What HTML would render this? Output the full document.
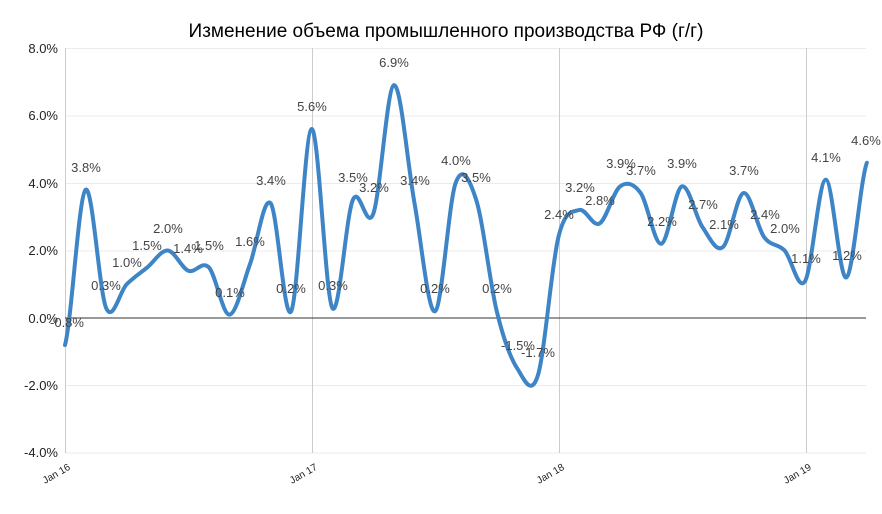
<!DOCTYPE html>
<html><head><meta charset="utf-8"><style>
body{margin:0;background:#fff;}
svg{display:block;font-family:"Liberation Sans","Noto Sans CJK SC",sans-serif;}
</style></head><body>
<svg width="882" height="514" xmlns="http://www.w3.org/2000/svg">
<text x="446" y="37" text-anchor="middle" font-size="19" fill="#000">Изменение объема промышленного производства РФ (г/г)</text>
<g stroke="#ebebeb" stroke-width="1">
<line x1="65" x2="866" y1="48.5" y2="48.5"/>
<line x1="65" x2="866" y1="116" y2="116"/>
<line x1="65" x2="866" y1="183.5" y2="183.5"/>
<line x1="65" x2="866" y1="251" y2="251"/>
<line x1="65" x2="866" y1="385.5" y2="385.5"/>
<line x1="65" x2="866" y1="453" y2="453"/>
</g>
<g stroke="#cccccc" stroke-width="1">
<line x1="65.5" x2="65.5" y1="48" y2="453"/>
<line x1="312.5" x2="312.5" y1="48" y2="453"/>
<line x1="559.5" x2="559.5" y1="48" y2="453"/>
<line x1="806.5" x2="806.5" y1="48" y2="453"/>
</g>
<line x1="65" x2="866" y1="318" y2="318" stroke="#333" stroke-width="1"/>
<g font-size="13" fill="#222" text-anchor="end">
<text x="58" y="53">8.0%</text>
<text x="58" y="120">6.0%</text>
<text x="58" y="188">4.0%</text>
<text x="58" y="255">2.0%</text>
<text x="58" y="323">0.0%</text>
<text x="58" y="390">-2.0%</text>
<text x="58" y="457">-4.0%</text>
</g>
<g font-size="10" fill="#222" text-anchor="end">
<text transform="translate(71,469) rotate(-30)">Jan 16</text>
<text transform="translate(318,469) rotate(-30)">Jan 17</text>
<text transform="translate(565,469) rotate(-30)">Jan 18</text>
<text transform="translate(812,469) rotate(-30)">Jan 19</text>
</g>
<path d="M65,345 C71.85,319.1 78.71,195.9 85.56,189.75 C92.41,183.6 99.27,292.1 106.12,307.9 C112.97,323.6 119.83,291 126.68,284.25 C133.53,277.5 140.39,273 147.24,267.4 C154.09,261.75 160.95,249.9 167.8,250.5 C174.65,251.1 181.51,267.9 188.36,270.75 C195.21,273.6 202.07,260.1 208.92,267.4 C215.77,274.7 222.63,315.2 229.48,314.6 C236.33,314.1 243.19,282.6 250.04,264 C256.89,245.4 263.75,195.4 270.6,203.25 C277.45,211.1 284.31,323.6 291.16,311.25 C298.01,298.9 304.87,129.6 311.72,129 C318.57,128.4 325.43,296.1 332.28,307.9 C339.13,319.7 345.99,215.6 352.84,199.9 C359.69,184.1 366.55,232.5 373.4,213.4 C380.25,194.25 387.11,86.8 393.96,85.1 C400.81,83.4 407.67,165.6 414.52,203.25 C421.37,240.9 428.23,314.6 435.08,311.25 C441.93,307.9 448.79,201.6 455.64,183 C462.49,164.4 469.35,178.5 476.2,199.9 C483.05,221.25 489.91,283.1 496.76,311.25 C503.61,339.4 510.47,357.9 517.32,368.6 C524.17,379.3 531.03,397.3 537.88,375.4 C544.73,353.4 551.59,264.6 558.44,237 C565.29,209.4 572.15,212.25 579,210 C585.85,207.75 592.71,227.4 599.56,223.5 C606.41,219.6 613.27,191.4 620.12,186.4 C626.97,181.3 633.83,183.6 640.68,193.1 C647.53,202.7 654.39,244.9 661.24,243.75 C668.09,242.6 674.95,189.2 681.8,186.4 C688.65,183.6 695.51,216.75 702.36,226.9 C709.21,237 716.07,252.75 722.92,247.1 C729.77,241.5 736.63,194.8 743.48,193.1 C750.33,191.4 757.19,227.4 764.04,237 C770.89,246.6 777.75,243.2 784.6,250.5 C791.45,257.8 798.31,292.7 805.16,280.9 C812.01,269.1 818.87,180.2 825.72,179.6 C832.57,179.1 839.43,280.3 846.28,277.5 C853.13,274.7 859.99,181.9 866.84,162.75" fill="none" stroke="#3d85c6" stroke-width="4" stroke-linejoin="round" stroke-linecap="round"/>
<g font-size="13" fill="#444" text-anchor="middle">
<text x="67" y="327">-0.8%</text>
<text x="86" y="172">3.8%</text>
<text x="106" y="290">0.3%</text>
<text x="127" y="267">1.0%</text>
<text x="147" y="250">1.5%</text>
<text x="168" y="233">2.0%</text>
<text x="188" y="253">1.4%</text>
<text x="209" y="250">1.5%</text>
<text x="230" y="297">0.1%</text>
<text x="250" y="246">1.6%</text>
<text x="271" y="185">3.4%</text>
<text x="291" y="293">0.2%</text>
<text x="312" y="111">5.6%</text>
<text x="333" y="290">0.3%</text>
<text x="353" y="182">3.5%</text>
<text x="374" y="192">3.2%</text>
<text x="394" y="67">6.9%</text>
<text x="415" y="185">3.4%</text>
<text x="435" y="293">0.2%</text>
<text x="456" y="165">4.0%</text>
<text x="476" y="182">3.5%</text>
<text x="497" y="293">0.2%</text>
<text x="518" y="350">-1.5%</text>
<text x="538" y="357">-1.7%</text>
<text x="559" y="219">2.4%</text>
<text x="580" y="192">3.2%</text>
<text x="600" y="205">2.8%</text>
<text x="621" y="168">3.9%</text>
<text x="641" y="175">3.7%</text>
<text x="662" y="226">2.2%</text>
<text x="682" y="168">3.9%</text>
<text x="703" y="209">2.7%</text>
<text x="724" y="229">2.1%</text>
<text x="744" y="175">3.7%</text>
<text x="765" y="219">2.4%</text>
<text x="785" y="233">2.0%</text>
<text x="806" y="263">1.1%</text>
<text x="826" y="162">4.1%</text>
<text x="847" y="260">1.2%</text>
<text x="866" y="145">4.6%</text>
</g>
</svg>
</body></html>
